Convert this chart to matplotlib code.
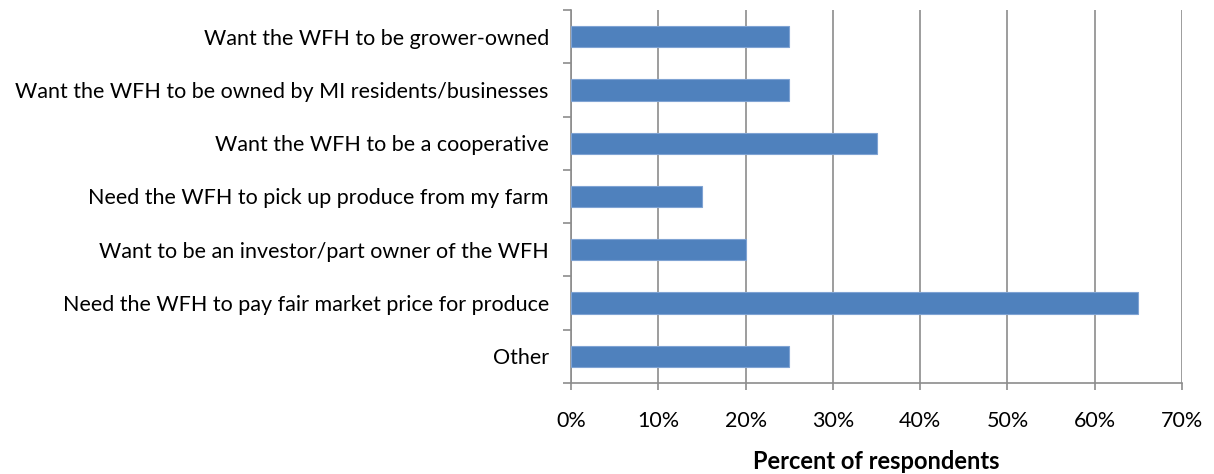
import matplotlib.pyplot as plt
from matplotlib.ticker import PercentFormatter

categories = [
    'Want the WFH to be grower-owned',
    'Want the WFH to be owned by MI residents/businesses',
    'Want the WFH to be a cooperative',
    'Need the WFH to pick up produce from my farm',
    'Want to be an investor/part owner of the WFH',
    'Need the WFH to pay fair market price for produce',
    'Other',
]
percent = [25, 25, 35, 15, 20, 65, 25]
x_ticks = [0, 10, 20, 30, 40, 50, 60, 70]

plt.rcParams['font.family'] = ['Lato', 'DejaVu Sans']
fs = 15.5

fig = plt.figure(figsize=(12.14, 4.74), dpi=100)
ax = fig.add_axes([0.4704, 0.192, 0.5032, 0.787])

pos = list(range(len(categories)))
ax.barh(pos, percent, height=0.4, color='#4F81BD', edgecolor='#7FA3D3', linewidth=0.8, zorder=3)
ax.set_ylim(len(categories) - 0.5, -0.5)
ax.set_xlim(0, 70)

# category names sit between the divider ticks
ax.set_yticks([p - 0.5 for p in pos] + [len(categories) - 0.5])
ax.set_yticklabels([])
ax.set_yticks(pos, minor=True)
ax.set_yticklabels(categories, minor=True, fontsize=fs)
ax.tick_params(axis='y', which='minor', length=0, pad=16)
ax.tick_params(axis='y', which='major', length=6, width=1.2, color='#8c8c8c', direction='out')

ax.set_xticks(x_ticks)
ax.xaxis.set_major_formatter(PercentFormatter(decimals=0))
ax.tick_params(axis='x', length=5, width=1.2, color='#8c8c8c', labelsize=fs, pad=15)
ax.grid(axis='x', color='#8c8c8c', linewidth=1.2, zorder=0)

for side in ['top', 'right']:
    ax.spines[side].set_visible(False)
for side in ['left', 'bottom']:
    ax.spines[side].set_color('#8c8c8c')
    ax.spines[side].set_linewidth(1.2)

ax.set_xlabel('Percent of respondents', fontsize=17, fontweight='bold', labelpad=14)

fig.savefig('out.png', dpi=100)
